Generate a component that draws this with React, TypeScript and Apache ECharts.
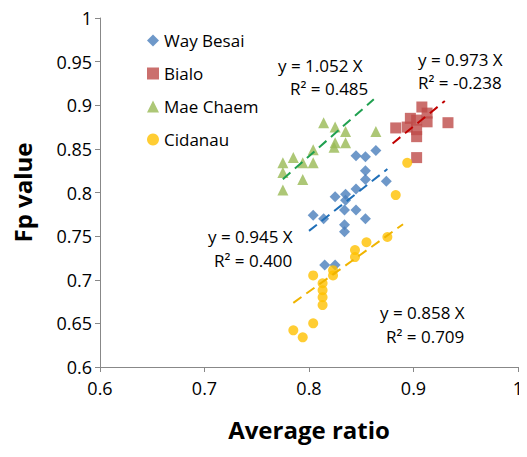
import React, { useEffect, useRef } from "react";
import * as echarts from "echarts";

const wayBesai = [[0.845,0.842],[0.854,0.841],[0.864,0.848],[0.854,0.825],[0.854,0.815],[0.874,0.813],[0.845,0.804],[0.835,0.798],[0.825,0.795],[0.835,0.791],[0.845,0.78],[0.834,0.78],[0.854,0.77],[0.804,0.774],[0.814,0.77],[0.834,0.763],[0.834,0.755],[0.815,0.717],[0.825,0.717]];
const bialo = [[0.883,0.874],[0.894,0.875],[0.903,0.883],[0.903,0.872],[0.903,0.864],[0.913,0.891],[0.913,0.881],[0.933,0.88],[0.903,0.84],[0.897,0.885],[0.908,0.898]];
const maeChaem = [[0.814,0.88],[0.825,0.875],[0.835,0.87],[0.864,0.87],[0.825,0.857],[0.835,0.857],[0.824,0.852],[0.804,0.849],[0.785,0.84],[0.775,0.834],[0.775,0.823],[0.794,0.834],[0.804,0.834],[0.794,0.815],[0.775,0.803]];
const cidanau = [[0.894,0.834],[0.883,0.797],[0.875,0.749],[0.855,0.743],[0.844,0.734],[0.844,0.726],[0.823,0.711],[0.823,0.705],[0.813,0.696],[0.813,0.688],[0.813,0.68],[0.813,0.671],[0.804,0.705],[0.804,0.65],[0.785,0.642],[0.794,0.634]];
const slopes = [0.945, 0.973, 1.052, 0.858];
const trendRanges = [[0.8, 0.875], [0.88, 0.93], [0.775, 0.862], [0.785, 0.89]];
const names = ["Way Besai", "Bialo", "Mae Chaem", "Cidanau"];
const colors = ["#4a7ebb", "#be4b48", "#98b954", "#ffc000"];
const trendColors = ["#1f6fb8", "#c00000", "#20a050", "#f0b400"];
const symbols = ["diamond", "rect", "triangle", "circle"];
const symbolSizes = [11, 11, 11, 10];

export default function App() {
  const ref = useRef<HTMLDivElement>(null);
  useEffect(() => {
    const chart = echarts.init(ref.current!, null, { renderer: "svg" });
    const data = [wayBesai, bialo, maeChaem, cidanau];
    const font = "Open Sans, Liberation Sans, sans-serif";
    const series: any[] = [];
    data.forEach((d, i) => {
      series.push({ name: names[i], type: "scatter", data: d, symbol: symbols[i], symbolSize: symbolSizes[i], itemStyle: { color: colors[i] } });
    });
    data.forEach((d, i) => {
      const [a, b] = trendRanges[i];
      series.push({ type: "line", data: [[a, a * slopes[i]], [b, b * slopes[i]]], symbol: "none", silent: true,
        lineStyle: { color: trendColors[i], width: 2, type: [10, 6] } });
    });
    const txt = (x: number, y: number, t: string) => ({ type: "text", left: x, top: y, style: { text: t, fontSize: 17, fontFamily: font, fill: "#000" } });
    chart.setOption({
      animation: false,
      textStyle: { fontFamily: font },
      grid: { left: 100, right: 9, top: 18, bottom: 90 },
      xAxis: { type: "value", min: 0.6, max: 1, interval: 0.1, splitLine: { show: false },
        axisLine: { lineStyle: { color: "#888" } }, axisTick: { lineStyle: { color: "#888" } },
        axisLabel: { color: "#000", fontSize: 18, margin: 12, formatter: (v: number) => (v === 1 ? "1" : v.toFixed(1)) },
        name: "Average ratio", nameLocation: "middle", nameGap: 50, nameTextStyle: { fontSize: 24, fontWeight: "bold", color: "#000" } },
      yAxis: { type: "value", min: 0.6, max: 1, interval: 0.05, splitLine: { show: false },
        axisLine: { show: true, lineStyle: { color: "#888" } }, axisTick: { show: true, lineStyle: { color: "#888" } },
        axisLabel: { color: "#000", fontSize: 18, formatter: (v: number) => (Math.abs(v - 1) < 1e-9 ? "1" : String(+v.toFixed(2))) },
        name: "Fp value", nameLocation: "middle", nameGap: 66, nameTextStyle: { fontSize: 24, fontWeight: "bold", color: "#000" } },
      legend: { data: names, orient: "vertical", left: 142, top: 27, itemGap: 16, itemWidth: 12, itemHeight: 12,
        textStyle: { fontSize: 17, color: "#000" } },
      graphic: [
        txt(278, 57, "y = 1.052 X"), txt(290, 80, "R² = 0.485"),
        txt(418, 51, "y = 0.973 X"), txt(418, 74, "R² = -0.238"),
        txt(208, 228, "y = 0.945 X"), txt(214, 252, "R² = 0.400"),
        txt(380, 304, "y = 0.858 X"), txt(386, 328, "R² = 0.709"),
      ],
      series,
    });
    return () => chart.dispose();
  }, []);
  return <div ref={ref} style={{ width: 527, height: 457, margin: -8 }} />;
}
